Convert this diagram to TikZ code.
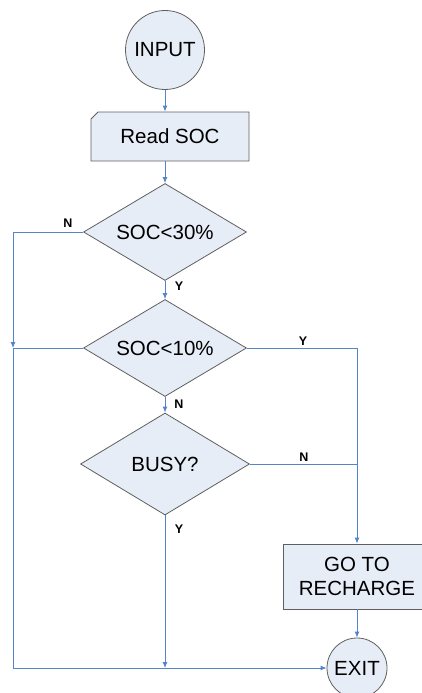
\documentclass[tikz,border=0pt]{standalone}
\usepackage{fontspec}
\setmainfont{Liberation Sans}
\usetikzlibrary{arrows.meta,shapes.geometric,shapes.misc}
\definecolor{boxfill}{RGB}{231,237,247}
\definecolor{boxline}{RGB}{95,95,95}
\definecolor{flowblue}{RGB}{84,133,200}
\tikzstyle{block}=[draw=boxline, fill=boxfill, line width=0.8pt, inner sep=0pt, font=\fontsize{20.5}{24}\selectfont]
\tikzstyle{decide}=[block, diamond, aspect=1.68]
\tikzstyle{flow}=[-{Latex[length=6pt,width=5pt]}, draw=flowblue, line width=0.9pt]
\tikzstyle{link}=[draw=flowblue, line width=0.9pt]
\tikzstyle{ans}=[font=\bfseries\fontsize{12.5}{14}\selectfont]

\begin{document}
\begin{tikzpicture}[x=1pt,y=-1pt]
\useasboundingbox (0,0) rectangle (422,693);
\node[block, circle, minimum size=79pt] (input) at (165,50) {INPUT};
\node[block, chamfered rectangle, chamfered rectangle corners=north west, chamfered rectangle xsep=4pt, chamfered rectangle ysep=3pt, minimum width=158pt, minimum height=49pt] (read) at (170,136.5) {Read SOC};
\node[decide, minimum width=163pt, minimum height=97pt] (soc30) at (165,232) {SOC<30\%};
\node[decide, minimum width=163pt, minimum height=97pt] (soc10) at (165,348) {SOC<10\%};
\node[decide, minimum width=169pt, minimum height=102pt] (busy) at (165,464) {BUSY?};
\node[block, rectangle, align=center, minimum width=148pt, minimum height=65pt] (recharge) at (357,576.5) {GO TO\\RECHARGE};
\node[block, circle, minimum size=60pt] (exit) at (357,668) {EXIT};
\coordinate (leftN) at (13,232);
\coordinate (leftJoin) at (13,348);
\coordinate (bottomLeft) at (13,668);
\coordinate (busyJoin) at (165,668);
\coordinate (rightY) at (357,348);
\coordinate (rightN) at (357,464);
% main column
\draw[flow](input.south)--(input.south |- read.north);
\draw[flow](soc30.north |- read.south)--(soc30.north);
\draw[flow](soc30.south)--(soc10.north);
\draw[flow](soc10.south)--(busy.north);
\draw[flow](busy.south)--(busyJoin);
% left branch
\draw[flow](soc30.west)--(leftN)--(leftJoin);
\draw[link](soc10.west)--(leftJoin);
\draw[flow](leftJoin)--(bottomLeft)--(exit.west);
% right branch
\draw[flow](soc10.east)--(rightY)--(recharge.north);
\draw[link](busy.east)--(rightN);
\draw[flow](recharge.south)--(exit.north);
% answers
\node[ans] (n30) at (68,223) {N};
\node[ans] (y30) at (179,286) {Y};
\node[ans] (y10) at (303,341) {Y};
\node[ans] (n10) at (179,404) {N};
\node[ans] (nbusy) at (304,457) {N};
\node[ans] (ybusy) at (179,529) {Y};
\end{tikzpicture}
\end{document}
